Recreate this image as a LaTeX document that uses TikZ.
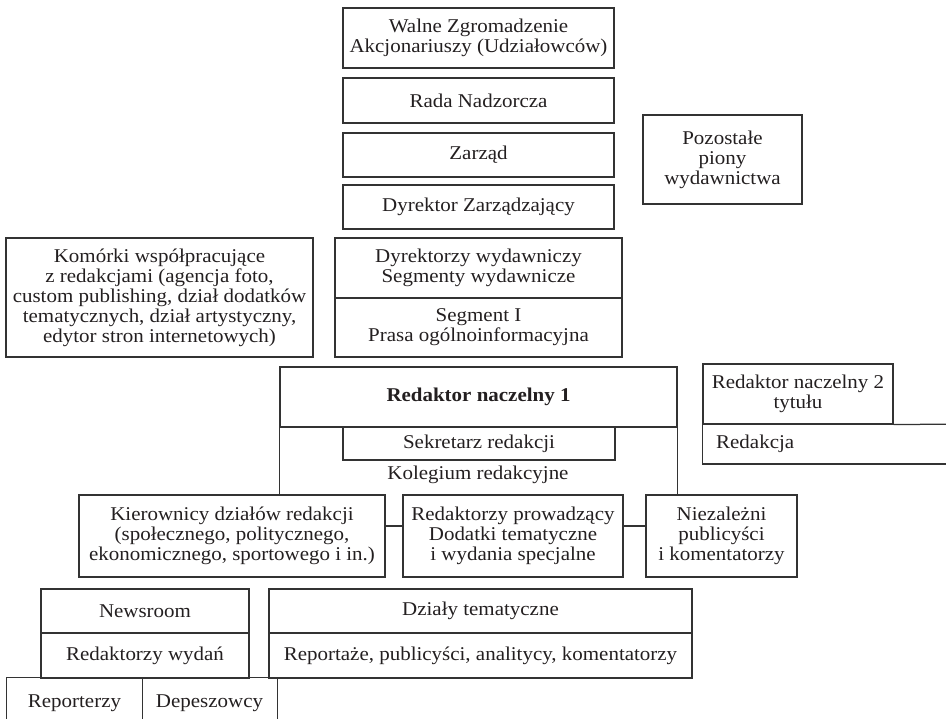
\documentclass[tikz,border=0pt]{standalone}
\usepackage{fontspec}
\setmainfont{Liberation Serif}[FakeStretch=1.075]
\definecolor{frame}{HTML}{333333}
\definecolor{ink}{HTML}{231F20}
\begin{document}
\begin{tikzpicture}[x=1pt,y=-1pt,
  every node/.style={font=\fontsize{19.5}{20}\selectfont, text=ink},
  box/.style n args={2}{draw=frame, line width=1.25pt, inner sep=0pt, align=center,
    minimum width=#1pt, minimum height=#2pt},
  plain/.style n args={2}{inner sep=0pt, align=center,
    minimum width=#1pt, minimum height=#2pt},
  conn/.style={draw=frame, line width=1.25pt}]

\useasboundingbox (0,0) rectangle (946,719);
\clip (0,0) rectangle (946,719);

% company level
\node[box={271}{60}] (walne) at (478.5,38) {Walne Zgromadzenie\\Akcjonariuszy (Udziałowców)};
\node[box={271}{45}] (rada) at (478.5,100.5) {Rada Nadzorcza};
\node[box={271}{44}] (zarzad) at (478.5,155) {Zarząd};
\node[box={271}{44}] (dyrzarz) at (478.5,207) {Dyrektor Zarządzający};
\node[box={287}{60}] (dyrwyd) at (478.5,268) {Dyrektorzy wydawniczy\\Segmenty wydawnicze};
\node[box={287}{59}] (segment) at (478.5,327.5) {Segment I\\Prasa ogólnoinformacyjna};
\node[box={307}{119}] (komorki) at (159.5,297.5) {Komórki współpracujące\\z redakcjami (agencja foto,\\custom publishing, dział dodatków\\tematycznych, dział artystyczny,\\edytor stron internetowych)};
\node[box={159}{89}] (pozostale) at (722.5,159.5) {Pozostałe\\piony\\wydawnictwa};

% editorial office of title 1
\node[box={397}{60}, font=\fontsize{19.5}{20}\selectfont\bfseries] (rn1) at (478.5,397) {Redaktor naczelny 1};
\node[box={272}{33}] (sekretarz) at (479,443.5) {Sekretarz redakcji};
\node[inner sep=0pt] (kolegium) at (478,475) {Kolegium redakcyjne};

\node[box={306}{82}] (kier) at (232,536) {Kierownicy działów redakcji\\(społecznego, politycznego,\\ekonomicznego, sportowego i in.)};
\node[box={220}{82}] (redprow) at (513,536) {Redaktorzy prowadzący\\Dodatki tematyczne\\i wydania specjalne};
\node[box={151}{82}] (niezal) at (721.5,536) {Niezależni\\publicyści\\i komentatorzy};

\coordinate (linkrow) at (0,526);
\draw[conn] (rn1.south west) -- (kier.north -| rn1.south west);
\draw[conn] (rn1.south east) -- (niezal.north -| rn1.south east);
\draw[conn] (kier.east |- linkrow) -- (redprow.west |- linkrow);
\draw[conn] (redprow.east |- linkrow) -- (niezal.west |- linkrow);

% editorial office of title 2
\node[box={190}{60}] (rn2) at (798,394) {Redaktor naczelny 2\\tytułu};
\node[inner sep=0pt, anchor=west] (redakcja) at (716,444) {Redakcja};
\draw[conn] (rn2.south west) -- (rn2.south west |- 0,464) -- (960,464);
\draw[conn] (rn2.south east) -- (960,424);

% newsroom and thematic sections
\node[box={208}{44}] (newsroom) at (145,611) {Newsroom};
\node[box={208}{45}] (redwyd) at (145,655.5) {Redaktorzy wydań};
\node[box={423}{44}] (dzialy) at (480.5,611) {Działy tematyczne};
\node[box={423}{45}] (reportaze) at (480.5,655.5) {Reportaże, publicyści, analitycy, komentatorzy};

\node[plain={135}{50}] (reporterzy) at (74.5,703) {Reporterzy};
\node[plain={135}{50}] (depeszowcy) at (209.5,703) {Depeszowcy};
\draw[conn] (reporterzy.south west) -- (reporterzy.north west) -- (depeszowcy.north east) -- (depeszowcy.south east);
\draw[conn] (reporterzy.north east) -- (reporterzy.south east);

\end{tikzpicture}
\end{document}
